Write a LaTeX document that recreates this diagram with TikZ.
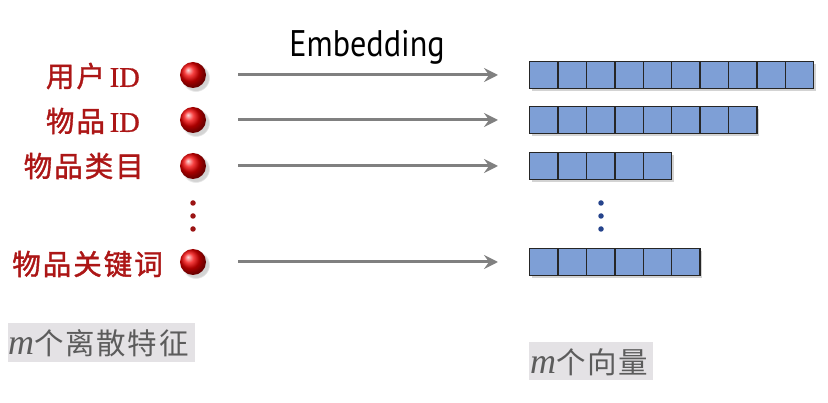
\documentclass[tikz,border=0pt]{standalone}
\usepackage{fontspec}
\newfontfamily\cjk[LetterSpace=6]{Noto Sans CJK SC}
\newfontfamily\cjkb[FakeBold=1.3,LetterSpace=7]{Noto Sans CJK SC}
\newfontfamily\serifid[FakeBold=1.0]{Liberation Serif}
\newfontfamily\mfont{Liberation Serif}
\newfontfamily\embfont{PT Sans}
\usetikzlibrary{shadows,arrows.meta}
\definecolor{labred}{RGB}{172,22,22}
\definecolor{cellblue}{RGB}{126,159,214}
\definecolor{dotblue}{RGB}{38,68,140}
\definecolor{arrgray}{RGB}{128,128,128}
\definecolor{boxgray}{RGB}{228,226,229}
\definecolor{txtgray}{RGB}{92,92,92}
\tikzset{
  feat/.style={anchor=east,text=labred,font=\cjkb\fontsize{28.5}{30}\selectfont,inner sep=0pt},
  redball/.style={circle,minimum size=26pt,inner sep=0pt,shading=ball,ball color=red!95!black,
     circular drop shadow={shadow xshift=2.5pt,shadow yshift=-2.5pt,opacity=0.35}},
  smalldot/.style={circle,fill=#1,minimum size=5.5pt,inner sep=0pt},
  embarrow/.style={draw=arrgray,line width=3pt,-{Stealth[length=14pt,width=14pt,inset=5pt]},
     shorten <=45pt,shorten >=31pt},
  cell/.style={draw=black!85,line width=1.3pt,fill=cellblue,minimum width=28.4pt,minimum height=26.5pt,inner sep=0pt,anchor=west},
  caption/.style={fill=boxgray,inner sep=0pt,anchor=north west},
  captext/.style={anchor=west,text=txtgray,font=\cjk\fontsize{29.5}{31}\selectfont,inner sep=0pt}
}
\begin{document}
\begin{tikzpicture}[x=1pt,y=-1pt]
\useasboundingbox (0,0) rectangle (828,403);
% feature labels
\node[feat] (l1) at (140,76) {用户\,{\serifid ID}};
\node[feat] (l2) at (140,121) {物品\,{\serifid ID}};
\node[feat] (l3) at (144,166) {物品类目};
\node[feat] (l4) at (163,264) {物品关键词};
% balls
\node[redball] (b1) at (193,75) {};
\node[redball] (b2) at (193,120) {};
\node[redball] (b3) at (193,166) {};
\node[redball] (b4) at (193,262) {};
\node[smalldot=labred!90!black] (d1) at (193,203) {};
\node[smalldot=labred!90!black] (d2) at (193,216) {};
\node[smalldot=labred!90!black] (d3) at (193,229) {};
% vector rows
\foreach \r/\y/\n in {1/75/10,2/120/8,3/166/5,4/262/6}{
  \fill[gray,opacity=0.35] (531.5,\y-13.25+2.5) rectangle (529+28.4*\n+2.5,\y+13.25+2.5);
  \foreach \k in {1,...,\n}{
    \node[cell] (c\r-\k) at (529+28.4*\k-28.4,\y) {};
  }
}
\node[smalldot=dotblue] (e1) at (601,203) {};
\node[smalldot=dotblue] (e2) at (601,216) {};
\node[smalldot=dotblue] (e3) at (601,229) {};
% arrows
\draw[embarrow] (b1.center) -- (c1-1.west);
\draw[embarrow] (b2.center) -- (c2-1.west);
\draw[embarrow] (b3.center) -- (c3-1.west);
\draw[embarrow] (b4.center) -- (c4-1.west);
\node[font=\embfont\fontsize{37}{39}\selectfont,xscale=0.87,transform shape] (emb) at (367,47) {Embedding};
% captions
\node[caption,minimum width=187pt,minimum height=39pt] (cap1) at (8,323) {};
\node[captext] (t1) at (8,343) {{\mfont\itshape\fontsize{36}{36}\selectfont m}个离散特征};
\node[caption,minimum width=124pt,minimum height=38pt] (cap2) at (529,342) {};
\node[captext] (t2) at (530,362) {{\mfont\itshape\fontsize{36}{36}\selectfont m}个向量};
\end{tikzpicture}
\end{document}
